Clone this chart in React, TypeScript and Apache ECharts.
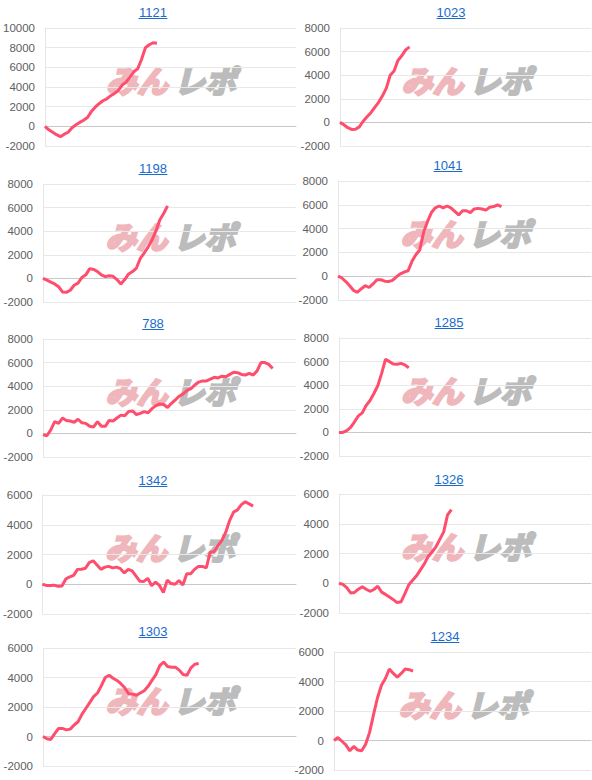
import { useEffect, useRef } from "react";
import * as echarts from "echarts";

const categories = Array.from({ length: 66 }, (_, i) => String(i + 1));
const titles = ["1121", "1023", "1198", "1041", "788", "1285", "1342", "1326", "1303", "1234"];
const yMaxes = [10000, 8000, 8000, 8000, 8000, 8000, 6000, 6000, 6000, 6000];

const d1121 = [0, -350, -600, -850, -1050, -800, -600, -150, 150, 400, 620, 900, 1500, 1950, 2300, 2600, 2800, 3100, 3350, 3650, 4200, 4500, 5000, 5550, 5850, 6800, 8000, 8300, 8500, 8450];
const d1023 = [0, -200, -450, -600, -580, -380, 100, 480, 820, 1270, 1700, 2250, 2900, 4000, 4350, 5250, 5650, 6150, 6400];
const d1198 = [0, -150, -310, -470, -700, -1150, -1180, -1000, -580, -400, 80, 300, 830, 760, 580, 300, 150, 230, 180, -100, -480, -100, 380, 580, 880, 1700, 2150, 2650, 3250, 4000, 4950, 5500, 6150];
const d1041 = [0, -150, -450, -800, -1200, -1350, -1050, -800, -950, -650, -300, -300, -420, -450, -350, -50, 200, 350, 450, 1250, 1800, 2200, 3700, 4600, 5350, 5750, 5900, 5750, 5900, 5750, 5450, 5150, 5500, 5500, 5350, 5650, 5700, 5650, 5550, 5800, 5850, 6000, 5850];
const d788 = [-100, -200, 300, 1000, 850, 1300, 1100, 1050, 950, 1200, 900, 850, 600, 550, 1000, 600, 600, 1100, 1050, 1300, 1550, 1500, 1850, 1900, 1600, 1700, 1850, 1750, 2100, 2350, 2500, 2450, 2200, 2550, 2850, 3150, 3350, 3650, 3800, 4100, 4350, 4450, 4450, 4600, 4750, 4700, 4850, 4800, 5000, 5180, 5150, 5000, 4950, 5080, 4950, 5300, 6000, 6000, 5850, 5500];
const d1285 = [0, 0, 150, 420, 900, 1400, 1650, 2280, 2700, 3300, 3950, 5000, 6200, 6000, 5800, 5780, 5850, 5720, 5480];
const d1342 = [0, -80, -80, -60, -140, -110, 350, 500, 600, 1000, 1010, 1070, 1450, 1580, 1300, 1000, 1150, 1200, 1100, 1150, 1050, 760, 1000, 900, 550, 200, 190, 400, -100, 150, -80, -550, 280, 50, 0, 250, -50, 700, 700, 1000, 1200, 1200, 1100, 2150, 2200, 2600, 2950, 3500, 4300, 4850, 5000, 5350, 5550, 5400, 5250];
const d1326 = [0, -80, -300, -650, -620, -400, -230, -400, -540, -420, -200, -600, -750, -920, -1100, -1300, -1250, -700, -100, 200, 500, 900, 1300, 1800, 2100, 2450, 2950, 3450, 4600, 4950];
const d1303 = [0, -150, -200, 200, 550, 550, 450, 500, 780, 1000, 1500, 1900, 2300, 2700, 2950, 3450, 4000, 4150, 3950, 3800, 3580, 3300, 2900, 2880, 2800, 2950, 3100, 3400, 3800, 4200, 4800, 5050, 4750, 4700, 4700, 4500, 4200, 4150, 4650, 4900, 4950];
const d1234 = [0, 200, -50, -300, -700, -400, -650, -700, -250, 550, 1750, 2900, 3750, 4200, 4850, 4550, 4300, 4550, 4850, 4800, 4700];

const seriesData = [d1121, d1023, d1198, d1041, d788, d1285, d1342, d1326, d1303, d1234];

const FONT = '"Liberation Sans", Arial, sans-serif';
const LINE = "#ff4d6d";
const BLUE = "#1a6ccc";

const panels = [
  { left: 44, top: 28, height: 118, right: 296, tx: 153, ty: 12 },
  { left: 340, top: 28, height: 118, right: 591, tx: 451, ty: 12 },
  { left: 43, top: 184, height: 118, right: 296, tx: 153, ty: 168 },
  { left: 338, top: 181, height: 119, right: 591, tx: 448, ty: 165 },
  { left: 43, top: 339, height: 118, right: 296, tx: 153, ty: 323 },
  { left: 339, top: 338, height: 118, right: 591, tx: 449, ty: 322 },
  { left: 42, top: 495, height: 119, right: 296, tx: 153, ty: 480 },
  { left: 339, top: 494, height: 119, right: 591, tx: 449, ty: 479 },
  { left: 43, top: 648, height: 118, right: 296, tx: 153, ty: 631 },
  { left: 334, top: 652, height: 118, right: 591, tx: 445, ty: 636 },
];

export default function App() {
  const ref = useRef<HTMLDivElement>(null);
  useEffect(() => {
    document.body.style.margin = "0";
    const chart = echarts.init(ref.current!, null, { renderer: "svg" });
    const grid = panels.map((p) => ({ left: p.left, top: p.top, width: p.right - p.left, height: p.height }));
    const xAxis = panels.map((_, i) => ({
      type: "category",
      gridIndex: i,
      data: categories,
      boundaryGap: false,
      axisLabel: { show: false },
      axisTick: { show: false },
      axisLine: { onZero: true, lineStyle: { color: "#c8c8c8", width: 1 } },
      splitLine: { show: false },
    }));
    const yAxis = panels.map((_, i) => ({
      type: "value",
      gridIndex: i,
      min: -2000,
      max: yMaxes[i],
      interval: 2000,
      axisLabel: { color: "#606060", fontSize: 11.5, fontFamily: FONT, margin: 10, formatter: (v: number) => String(v) },
      axisLine: { show: true, lineStyle: { color: "#e6e6e6" } },
      axisTick: { show: false },
      splitLine: { lineStyle: { color: "#e8e8e8" } },
    }));
    const series = seriesData.map((d, i) => ({
      type: "line",
      xAxisIndex: i,
      yAxisIndex: i,
      data: d,
      symbol: "none",
      lineStyle: { color: LINE, width: 3 },
      z: 5,
    }));
    const graphic: any[] = [];
    panels.forEach((p, i) => {
      const w = titles[i].length * 7.2;
      graphic.push({
        type: "text",
        x: p.tx,
        y: p.ty,
        style: { text: titles[i], fill: BLUE, font: `13px ${FONT}`, align: "center", verticalAlign: "middle" },
      });
      graphic.push({
        type: "line",
        shape: { x1: p.tx - w / 2, y1: p.ty + 6.5, x2: p.tx + w / 2, y2: p.ty + 6.5 },
        style: { stroke: BLUE, lineWidth: 1 },
      });
      const cx = (p.left + p.right) / 2;
      const cy = p.top + 51;
      graphic.push({
        type: "text",
        x: cx - 2,
        y: cy,
        z: 0,
        style: {
          text: "みん",
          fill: "#efb7bb",
          stroke: "#efb7bb",
          lineWidth: 2.5,
          font: `italic bold 31px "Noto Sans CJK JP"`,
          align: "right",
          verticalAlign: "middle",
        },
      });
      graphic.push({
        type: "text",
        x: cx + 4,
        y: cy,
        z: 0,
        style: {
          text: "レポ",
          fill: "#bcbcbc",
          stroke: "#bcbcbc",
          lineWidth: 2.5,
          font: `italic bold 31px "Noto Sans CJK JP"`,
          align: "left",
          verticalAlign: "middle",
        },
      });
    });
    chart.setOption({ animation: false, grid, xAxis, yAxis, series, graphic });
    return () => chart.dispose();
  }, []);
  return <div ref={ref} style={{ width: 592, height: 780 }} />;
}
